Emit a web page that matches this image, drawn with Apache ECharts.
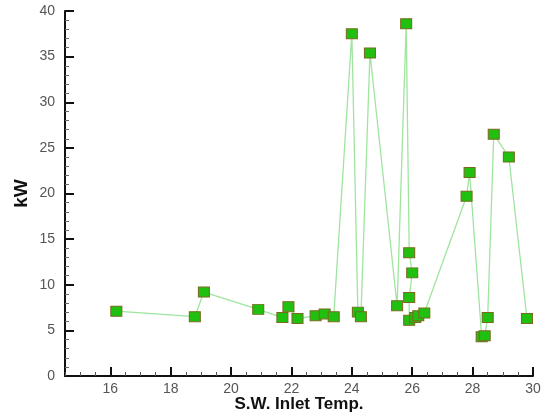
<!DOCTYPE html>
<html>
<head>
<meta charset="utf-8">
<script src="https://cdn.jsdelivr.net/npm/echarts@6/dist/echarts.min.js"></script>
<style>html,body{margin:0;padding:0;background:#fff}#c{width:541px;height:413px}</style>
</head>
<body>
<div id="c"></div>
<script>
var temps = [16.2, 18.8, 19.1, 20.9, 21.7, 21.9, 22.2, 22.8, 23.1, 23.4, 24.0, 24.2, 24.3, 24.6, 25.5, 25.8, 25.9, 26.0, 25.9, 25.9, 26.1, 26.2, 26.4, 27.8, 27.9, 28.3, 28.4, 28.5, 28.7, 29.2, 29.8];
var kw = [7.1, 6.5, 9.2, 7.3, 6.4, 7.6, 6.3, 6.6, 6.8, 6.5, 37.5, 7.0, 6.5, 35.4, 7.7, 38.6, 13.5, 11.3, 8.6, 6.1, 6.4, 6.6, 6.9, 19.7, 22.3, 4.3, 4.4, 6.4, 26.5, 24.0, 6.3];
var xTicks = [16, 18, 20, 22, 24, 26, 28, 30];
var yTicks = [0, 5, 10, 15, 20, 25, 30, 35, 40];

var pts = temps.map(function (t, i) { return [t, kw[i]]; });
var chart = echarts.init(document.getElementById('c'));
var labelFont = { color: '#555', fontSize: 14, fontFamily: 'Liberation Sans, Arial, sans-serif' };
chart.setOption({
  animation: false,
  grid: { left: 65, right: 8, top: 11, bottom: 37, containLabel: false, outerBoundsMode: 'none' },
  xAxis: [{
    type: 'value', min: 14.5, max: 30, interval: 0.5,
    axisLine: { show: true, lineStyle: { color: '#111', width: 2 } },
    axisTick: { show: true, inside: true, length: 4, lineStyle: { color: '#555', width: 1 } },
    axisLabel: { show: false },
    splitLine: { show: false }
  }, {
    type: 'value', min: 14.5, max: 30, position: 'bottom',
    axisLine: { show: false },
    axisTick: { show: true, inside: true, length: 9, customValues: xTicks, lineStyle: { color: '#111', width: 2 } },
    axisLabel: Object.assign({ show: true, margin: 6, customValues: xTicks }, labelFont),
    splitLine: { show: false },
    name: 'S.W. Inlet Temp.', nameLocation: 'middle', nameGap: 20, nameMoveOverlap: false,
    nameTextStyle: { color: '#111', fontSize: 17, fontWeight: 'bold', fontFamily: 'Liberation Sans, Arial, sans-serif' }
  }],
  yAxis: {
    type: 'value', min: 0, max: 40, interval: 5,
    axisLine: { show: true, lineStyle: { color: '#111', width: 2 } },
    axisTick: { show: true, inside: true, length: 9, lineStyle: { color: '#111', width: 2 } },
    minorTick: { show: true, splitNumber: 5, length: 4, lineStyle: { color: '#666', width: 1 } },
    axisLabel: Object.assign({ show: true, margin: 10 }, labelFont, { customValues: yTicks }),
    splitLine: { show: false },
    name: 'kW', nameLocation: 'middle', nameGap: 34, nameRotate: 90, nameMoveOverlap: false,
    nameTextStyle: { color: '#111', fontSize: 19, fontWeight: 'bold', fontFamily: 'Liberation Sans, Arial, sans-serif' }
  },
  series: [{
    type: 'line', xAxisIndex: 0, data: pts,
    symbol: 'rect', symbolSize: [11, 10],
    lineStyle: { color: '#9fe59f', width: 1.3 },
    itemStyle: { color: '#1fc00f', borderColor: '#7a6a20', borderWidth: 1 }
  }]
});
</script>
</body>
</html>
